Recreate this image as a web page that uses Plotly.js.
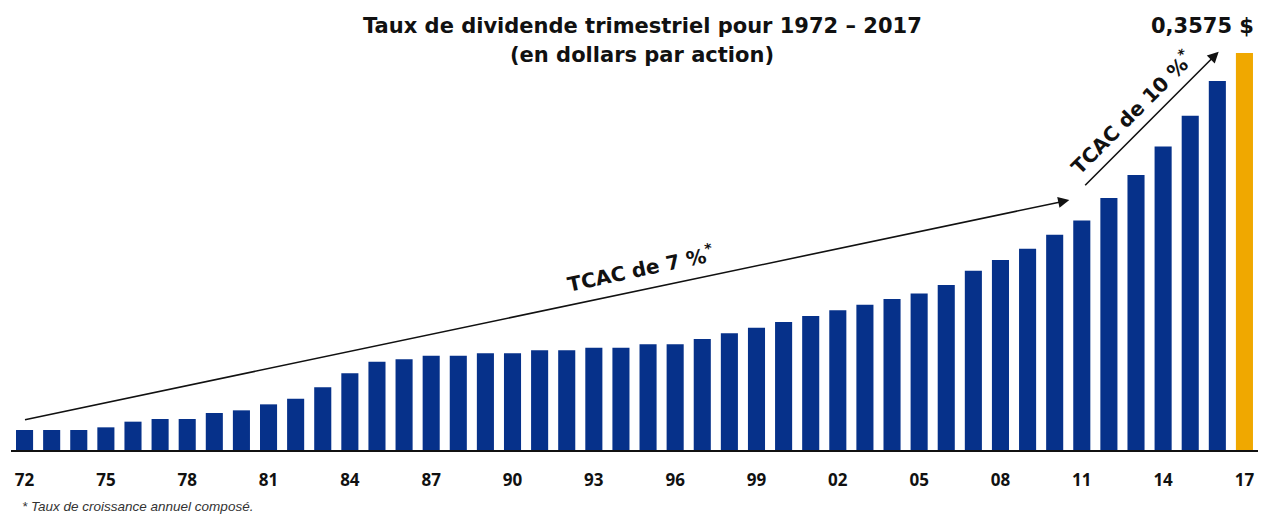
<!DOCTYPE html>
<html>
<head>
<meta charset="utf-8">
<script src="https://cdn.plot.ly/plotly-3.0.1.min.js"></script>
<style>
  html, body { margin: 0; padding: 0; background: #ffffff; }
  #chart { width: 1262px; height: 516px; }
</style>
</head>
<body>
<div id="chart"></div>
<script>
// Years 1972–2017
const years = [1972,1973,1974,1975,1976,1977,1978,1979,1980,1981,1982,1983,1984,1985,1986,1987,1988,1989,1990,1991,1992,1993,1994,1995,1996,1997,1998,1999,2000,2001,2002,2003,2004,2005,2006,2007,2008,2009,2010,2011,2012,2013,2014,2015,2016,2017];

// Quarterly dividend rate (dollars per share)
const dividends = [0.0180,0.0180,0.0180,0.0204,0.0255,0.0279,0.0279,0.0333,0.0357,0.0411,
                   0.0462,0.0564,0.0690,0.0795,0.0816,0.0849,0.0849,0.0870,0.0870,0.0897,
                   0.0897,0.0920,0.0920,0.0951,0.0951,0.0999,0.1050,0.1100,0.1152,0.1206,
                   0.1257,0.1308,0.1359,0.1410,0.1485,0.1614,0.1710,0.1812,0.1938,0.2067,
                   0.2268,0.2475,0.2733,0.3009,0.3321,0.3575];

// Tick labels every three years
const tickYears = [1972,1975,1978,1981,1984,1987,1990,1993,1996,1999,2002,2005,2008,2011,2014,2017];
const tickLabels = ["72","75","78","81","84","87","90","93","96","99","02","05","08","11","14","17"];

const titleLine1 = "Taux de dividende trimestriel pour 1972 – 2017";
const titleLine2 = "(en dollars par action)";
const lastLabel = "0,3575 $";
const cagr1 = "TCAC de 7 %<sup>*</sup>";
const cagr2 = "TCAC de 10 %<sup>*</sup>";
const footnote = "* Taux de croissance annuel composé.";

const BLUE = "#06318a";
const GOLD = "#f0a800";
const colors = years.map((y, i) => i === years.length - 1 ? GOLD : BLUE);

const W = 1262, H = 516;
const M = { l: 11, r: 4, t: 39, b: 66 };
const pw = W - M.l - M.r, ph = H - M.t - M.b;
const px = x => (x - M.l) / pw;          // pixel -> paper x
const py = y => (H - M.b - y) / ph;      // pixel -> paper y

const idx = years.map((y, i) => i);
const tickIdx = tickYears.map(y => years.indexOf(y));

const trace = {
  type: "bar",
  x: idx,
  y: dividends,
  marker: { color: colors, line: { width: 0 } },
  hoverinfo: "skip"
};

const font = "Liberation Sans, Arial, sans-serif";
const wide = "DejaVu Sans, Verdana, sans-serif";
const tickFamily = "Open Sans, Liberation Sans, sans-serif";

const layout = {
  width: W, height: H,
  margin: M,
  paper_bgcolor: "#ffffff",
  plot_bgcolor: "#ffffff",
  showlegend: false,
  bargap: 0.37,
  xaxis: {
    range: [-0.5, years.length - 0.5],
    tickmode: "array",
    tickvals: tickIdx,
    ticktext: tickLabels.map(t => "<b>" + t + "</b>"),
    tickfont: { family: tickFamily, size: 17, color: "#111111" },
    ticks: "",
    ticklabelstandoff: 14,
    showgrid: false,
    zeroline: false,
    showline: true,
    linecolor: "#111111",
    linewidth: 2,
    fixedrange: true
  },
  yaxis: {
    range: [0, 0.37],
    visible: false,
    showgrid: false,
    zeroline: false,
    fixedrange: true
  },
  annotations: [
    { xref: "paper", yref: "paper", x: px(642), y: py(26), text: "<b>" + titleLine1 + "</b>",
      showarrow: false, xanchor: "center", yanchor: "middle",
      font: { family: wide, size: 21, color: "#111111" } },
    { xref: "paper", yref: "paper", x: px(642), y: py(55), text: "<b>" + titleLine2 + "</b>",
      showarrow: false, xanchor: "center", yanchor: "middle",
      font: { family: wide, size: 21, color: "#111111" } },
    { xref: "paper", yref: "paper", x: px(1256), y: py(26), text: "<b>" + lastLabel + "</b>",
      showarrow: false, xanchor: "right", yanchor: "middle",
      font: { family: wide, size: 21, color: "#111111" } },
    // long-term growth arrow
    { xref: "x", yref: "y", axref: "x", ayref: "y",
      x: 38.54, y: 0.225, ax: -0.04, ay: 0.027, text: "",
      showarrow: true, arrowhead: 2, arrowsize: 1.4, arrowwidth: 1.6, arrowcolor: "#111111", standoff: 0 },
    { xref: "x", yref: "y", x: 22.71, y: 0.1638, text: "<b>" + cagr1 + "</b>",
      showarrow: false, textangle: -12, xanchor: "center", yanchor: "middle",
      font: { family: wide, size: 20, color: "#111111" } },
    // recent growth arrow
    { xref: "x", yref: "y", axref: "x", ayref: "y",
      x: 44.05, y: 0.3586, ax: 39.07, ay: 0.237, text: "",
      showarrow: true, arrowhead: 2, arrowsize: 1.4, arrowwidth: 1.6, arrowcolor: "#111111", standoff: 0 },
    { xref: "x", yref: "y", x: 40.83, y: 0.3043, text: "<b>" + cagr2 + "</b>",
      showarrow: false, textangle: -45, xanchor: "center", yanchor: "middle",
      font: { family: wide, size: 20, color: "#111111" } },
    { xref: "paper", yref: "paper", x: px(20), y: py(506), text: "<i>" + footnote + "</i>",
      showarrow: false, xanchor: "left", yanchor: "middle",
      font: { family: font, size: 13.5, color: "#333333" } }
  ]
};

Plotly.newPlot("chart", [trace], layout, { displayModeBar: false, staticPlot: true });
</script>
</body>
</html>
